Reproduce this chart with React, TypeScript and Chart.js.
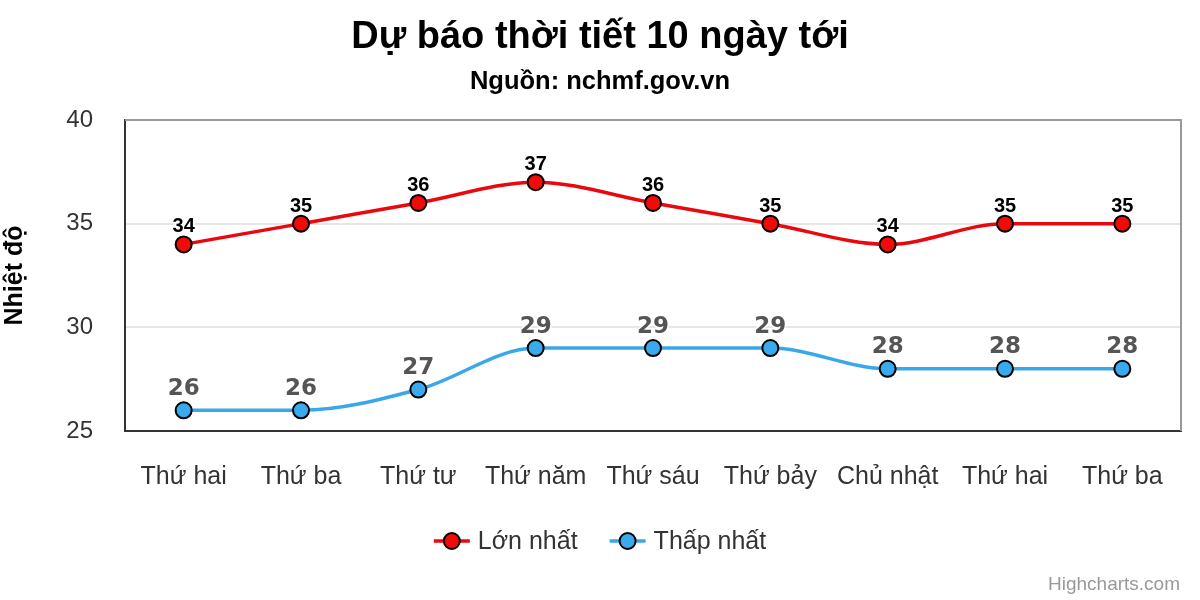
import React, { useEffect, useRef } from "react";
import { Chart, registerables } from "chart.js";

Chart.register(...registerables);

const TITLE = "Dự báo thời tiết 10 ngày tới";
const SUBTITLE = "Nguồn: nchmf.gov.vn";
const Y_TITLE = "Nhiệt độ";
const CREDIT = "Highcharts.com";

const categories = [
  "Thứ hai",
  "Thứ ba",
  "Thứ tư",
  "Thứ năm",
  "Thứ sáu",
  "Thứ bảy",
  "Chủ nhật",
  "Thứ hai",
  "Thứ ba",
];
const maxTemps = [34, 35, 36, 37, 36, 35, 34, 35, 35];
const minTemps = [26, 26, 27, 29, 29, 29, 28, 28, 28];
const seriesNames = ["Lớn nhất", "Thấp nhất"];
const yTicks = [25, 30, 35, 40];

const FONT = "'Liberation Sans', Arial, Helvetica, sans-serif";
const DV = "'DejaVu Sans', sans-serif";
const RED_LINE = "#e8080d";
const RED_FILL = "#f00a0a";
const BLUE_LINE = "#3aa8e8";
const BLUE_FILL = "#3aaaee";

const decorPlugin = {
  id: "decor",
  beforeDatasetsDraw(chart: any) {
    const { ctx, chartArea } = chart;
    ctx.save();
    ctx.strokeStyle = "#999999";
    ctx.lineWidth = 2;
    ctx.beginPath();
    ctx.moveTo(chartArea.left, chartArea.top);
    ctx.lineTo(chartArea.right, chartArea.top);
    ctx.lineTo(chartArea.right, chartArea.bottom);
    ctx.stroke();
    ctx.restore();
  },
  afterDraw(chart: any) {
    const { ctx } = chart;
    const w = chart.width;
    ctx.save();
    ctx.fillStyle = "#000";
    ctx.textAlign = "center";
    ctx.textBaseline = "alphabetic";
    ctx.font = `bold 38px ${FONT}`;
    ctx.fillText(TITLE, w / 2, 48);
    ctx.font = `bold 25.5px ${FONT}`;
    ctx.fillText(SUBTITLE, w / 2, 89);

    const drawLabels = (dsIndex: number, font: string, color: string, offset: number) => {
      const meta = chart.getDatasetMeta(dsIndex);
      const data = chart.data.datasets[dsIndex].data as number[];
      ctx.font = font;
      ctx.textAlign = "center";
      ctx.textBaseline = "alphabetic";
      meta.data.forEach((pt: any, i: number) => {
        const txt = String(data[i]);
        ctx.lineWidth = 3;
        ctx.strokeStyle = "#fff";
        ctx.lineJoin = "round";
        ctx.strokeText(txt, pt.x, pt.y - offset);
        ctx.fillStyle = color;
        ctx.fillText(txt, pt.x, pt.y - offset);
      });
    };
    drawLabels(0, `bold 20px ${FONT}`, "#000", 12);
    drawLabels(1, `bold 23px ${DV}`, "#555", 15.5);

    ctx.font = `25px ${FONT}`;
    const symW = 36;
    const symGap = 8;
    const itemGap = 32;
    const widths = seriesNames.map((n) => ctx.measureText(n).width);
    const total = widths.reduce((a, b) => a + b, 0) + 2 * (symW + symGap) + itemGap;
    let x = w / 2 - total / 2;
    const ly = 541;
    const colors = [
      [RED_LINE, RED_FILL],
      [BLUE_LINE, BLUE_FILL],
    ];
    seriesNames.forEach((name, i) => {
      ctx.strokeStyle = colors[i][0];
      ctx.lineWidth = 3.5;
      ctx.beginPath();
      ctx.moveTo(x, ly);
      ctx.lineTo(x + symW, ly);
      ctx.stroke();
      ctx.beginPath();
      ctx.arc(x + symW / 2, ly, 8, 0, Math.PI * 2);
      ctx.fillStyle = colors[i][1];
      ctx.fill();
      ctx.lineWidth = 2;
      ctx.strokeStyle = "#000";
      ctx.stroke();
      ctx.fillStyle = "#333";
      ctx.textAlign = "left";
      ctx.textBaseline = "middle";
      ctx.fillText(name, x + symW + symGap, ly + 1);
      x += symW + symGap + widths[i] + itemGap;
    });

    ctx.font = `19px ${FONT}`;
    ctx.fillStyle = "#999";
    ctx.textAlign = "right";
    ctx.textBaseline = "alphabetic";
    ctx.fillText(CREDIT, w - 20, 590);
    ctx.restore();
  },
};

export default function App() {
  const canvasRef = useRef<HTMLCanvasElement | null>(null);

  useEffect(() => {
    document.body.style.margin = "0";
    const canvas = canvasRef.current;
    if (!canvas) return;
    const chart = new Chart(canvas, {
      type: "line",
      data: {
        labels: categories,
        datasets: [
          {
            label: seriesNames[0],
            data: maxTemps,
            borderColor: RED_LINE,
            backgroundColor: RED_FILL,
            borderWidth: 3.5,
            pointRadius: 8,
            pointHoverRadius: 8,
            pointBorderColor: "#000",
            pointBorderWidth: 2,
            pointBackgroundColor: RED_FILL,
            cubicInterpolationMode: "monotone",
          },
          {
            label: seriesNames[1],
            data: minTemps,
            borderColor: BLUE_LINE,
            backgroundColor: BLUE_FILL,
            borderWidth: 3.5,
            pointRadius: 8,
            pointHoverRadius: 8,
            pointBorderColor: "#000",
            pointBorderWidth: 2,
            pointBackgroundColor: BLUE_FILL,
            cubicInterpolationMode: "monotone",
          },
        ],
      },
      options: {
        responsive: false,
        animation: false,
        layout: { padding: { top: 120, right: 19, bottom: 110, left: 0 } },
        plugins: {
          legend: { display: false },
          title: { display: false },
          tooltip: { enabled: false },
        },
        scales: {
          x: {
            offset: true,
            grid: { display: false, drawTicks: false },
            border: { display: true, color: "#333", width: 2 },
            ticks: {
              color: "#333",
              font: { family: FONT, size: 25 },
              padding: 31,
              maxRotation: 0,
              autoSkip: false,
            },
            afterFit: (s: any) => {
              s.height = 59;
            },
          },
          y: {
            min: 25,
            max: 40,
            afterBuildTicks: (s: any) => {
              s.ticks = yTicks.map((v) => ({ value: v }));
            },
            grid: {
              drawTicks: false,
              color: (c: any) =>
                c.tick && (c.tick.value === 30 || c.tick.value === 35) ? "#e6e6e6" : "rgba(0,0,0,0)",
              lineWidth: 2,
            },
            border: { display: true, color: "#333", width: 2 },
            ticks: {
              color: "#333",
              font: { family: FONT, size: 24 },
              padding: 32,
            },
            title: {
              display: true,
              text: Y_TITLE,
              color: "#000",
              font: { family: FONT, size: 25, weight: "bold" },
              padding: { top: 0, bottom: 0 },
            },
            afterFit: (s: any) => {
              s.width = 125;
            },
          },
        },
      },
      plugins: [decorPlugin],
    });
    return () => chart.destroy();
  }, []);

  return <canvas ref={canvasRef} width={1200} height={600} style={{ display: "block" }} />;
}
